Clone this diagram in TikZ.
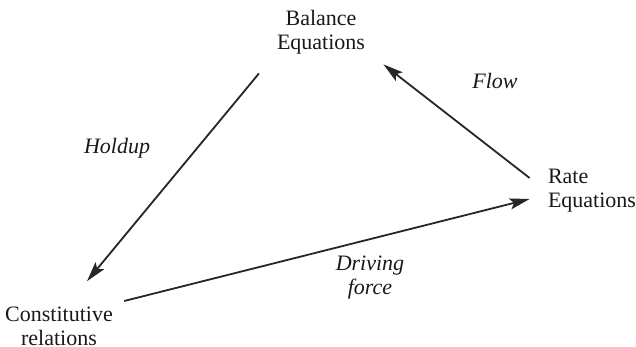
\documentclass[tikz,border=0pt]{standalone}
\usepackage{fontspec}
\setmainfont{Liberation Serif}
\usetikzlibrary{arrows.meta,calc}

\begin{document}
\begin{tikzpicture}[x=0.5pt,y=-0.5pt,
    eqn/.style={inner sep=0pt,text=black!90,font=\fontsize{11}{12}\selectfont},
    lab/.style={inner sep=0pt,text=black!90,align=center,font=\fontsize{11}{12}\selectfont\itshape},
    link/.style={line width=0.9pt,draw=black!85,-{Stealth[length=10pt,width=5.5pt,inset=2pt]}}]
    \useasboundingbox (0,0) rectangle (636,347);

    \node[eqn,align=center] (bal) at (321,32) {Balance\\Equations};
    \node[eqn,align=left] (rate) at (592,191) {Rate\\Equations};
    \node[eqn,align=center] (cons) at (59,326) {Constitutive\\relations};

    \draw[link] ($(bal.south)+(-62,19)$) -- ($(cons.north)+(28,-25)$);
    \draw[link] ($(rate.west)+(-18,-13)$) -- ($(bal.south east)+(18,10)$);
    \draw[link] ($(cons.east)+(11,-25)$) -- ($(rate.west)+(-18,8)$);

    \node[lab] (holdup) at (117,148) {Holdup};
    \node[lab] (flow) at (495,81) {Flow};
    \node[lab] (drive) at (370,278) {Driving\\force};
\end{tikzpicture}
\end{document}
